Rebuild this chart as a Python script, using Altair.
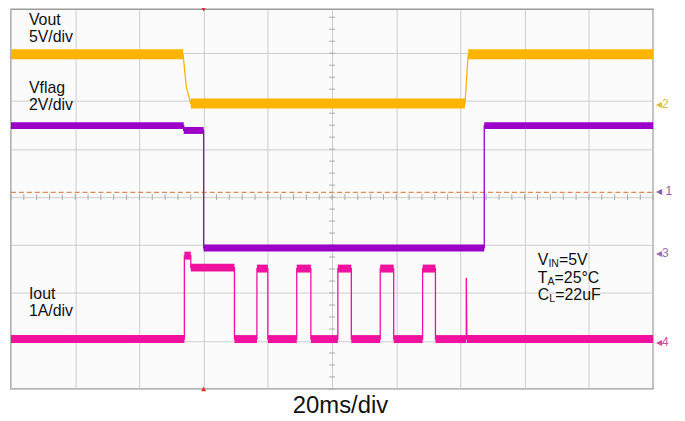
import altair as alt
import pandas as pd

# ---- Traces: time in divisions (0..10), level in divisions from the bottom graticule line ----
vout_t = [0.00, 2.68, 2.73, 2.77, 2.80, 7.07, 7.12, 10.00]
vout_v = [6.98, 6.98, 6.30, 6.10, 5.95, 5.95, 6.98, 6.98]

vflag_t = [0.00, 2.69, 2.69, 3.00, 3.00, 7.37, 7.37, 10.00]
vflag_v = [5.49, 5.49, 5.39, 5.39, 2.94, 2.94, 5.49, 5.49]

iout_t = [0.00, 2.70, 2.70, 2.80, 2.80, 3.48, 3.48, 3.83, 3.83, 4.00, 4.00,
          4.45, 4.45, 4.67, 4.67, 5.09, 5.09, 5.30, 5.30, 5.75, 5.75, 5.96,
          5.96, 6.41, 6.41, 6.61, 6.61, 7.09, 7.09, 7.10, 10.00]
iout_v = [1.04, 1.04, 2.78, 2.78, 2.53, 2.53, 1.04, 1.04, 2.51, 2.51, 1.04,
          1.04, 2.51, 2.51, 1.04, 1.04, 2.51, 2.51, 1.04, 1.04, 2.51, 2.51,
          1.04, 1.04, 2.51, 2.51, 1.04, 1.04, 2.32, 1.04, 1.04]

trigger_level = 4.10
trigger_time = 3.0

x_divs = list(range(11))
y_divs = list(range(8))
Y_TOP = 7.917

FONT = "Liberation Sans"
C_VOUT = "#FFB400"
C_VFLAG = "#9B00C9"
C_IOUT = "#F0129E"

xs = alt.Scale(domain=[0, 10], nice=False, zero=False)
ys = alt.Scale(domain=[0, Y_TOP], nice=False, zero=False)
xaxis = alt.Axis(values=x_divs, grid=True, labels=False, ticks=False, domain=False,
                 title=None, gridColor="#cdcdcd", gridWidth=1)
yaxis = alt.Axis(values=y_divs, grid=True, labels=False, ticks=False, domain=False,
                 title=None, gridColor="#cdcdcd", gridWidth=1)


def X(f):
    return alt.X(f, type="quantitative", scale=xs, axis=xaxis)


def Y(f):
    return alt.Y(f, type="quantitative", scale=ys, axis=yaxis)


def path_df(ts, vs):
    return pd.DataFrame({"t": ts, "v": vs, "i": list(range(len(ts)))})


def band_df(ts, vs):
    rows = []
    for k in range(len(ts) - 1):
        if vs[k] == vs[k + 1] and ts[k + 1] > ts[k]:
            rows.append({"t0": ts[k], "t1": ts[k + 1], "v": vs[k]})
    return pd.DataFrame(rows)


def trace(ts, vs, color, band_w):
    thin = alt.Chart(path_df(ts, vs)).mark_line(color=color, strokeWidth=1.3).encode(
        x=X("t"), y=Y("v"), order=alt.Order("i:Q"))
    thick = alt.Chart(band_df(ts, vs)).mark_rule(color=color, strokeWidth=band_w,
                                                 strokeCap="butt").encode(
        x=X("t0"), x2="t1", y=Y("v"))
    return thin + thick


# centre cross minor ticks
h_ticks = pd.DataFrame({"t": [k * 0.2 for k in range(51)]})
v_ticks = pd.DataFrame({"v": [k * 0.25 for k in range(32)]})

grid_base = alt.Chart(pd.DataFrame({"t": [0, 10], "v": [0, Y_TOP]})).mark_point(opacity=0).encode(
    x=X("t"), y=Y("v"))

htick_layer = alt.Chart(h_ticks).transform_calculate(v0="4-0.06", v1="4+0.06").mark_rule(
    color="#a8a8a8", strokeWidth=1).encode(x=X("t"), y=Y("v0:Q"), y2="v1:Q")
vtick_layer = alt.Chart(v_ticks).transform_calculate(t0="5-0.045", t1="5+0.045").mark_rule(
    color="#a8a8a8", strokeWidth=1).encode(y=Y("v"), x=X("t0:Q"), x2="t1:Q")

dash_layer = alt.Chart(pd.DataFrame({"t0": [0], "t1": [10], "v": [trigger_level]})).mark_rule(
    color="#dc8a55", strokeWidth=1.2, strokeDash=[5, 3]).encode(x=X("t0"), x2="t1", y=Y("v"))

markers = alt.Chart(pd.DataFrame({"t": [trigger_time, trigger_time], "v": [Y_TOP, 0],
                                  "s": ["triangle-down", "triangle-up"]})).mark_point(
    filled=True, color="#e0302a", size=28, opacity=1).encode(
    x=X("t"), y=Y("v"), shape=alt.Shape("s:N", scale=None, legend=None))


def txt(s, x, y, size, color="#111111", align="left"):
    return alt.Chart(pd.DataFrame({"s": [s]})).mark_text(
        font=FONT, fontSize=size, color=color, align=align, baseline="alphabetic").encode(
        x=alt.value(x), y=alt.value(y), text="s:N")


# page coords -> plot coords (plot origin at page (11, 8))
def P(px, py):
    return px - 11, py - 8


texts = []
for s, (px, py) in [("Vout", (29, 24)), ("5V/div", (29, 41)), ("Vflag", (29, 92)),
                    ("2V/div", (29, 109)), ("Iout", (29, 300)), ("1A/div", (29, 317))]:
    x, y = P(px, py)
    texts.append(txt(s, x, y, 16))

# condition annotation with subscripts
for main, sub, rest, py, w_main, w_sub in [("V", "IN", "=5V", 265, 10.7, 10.5),
                                            ("T", "A", "=25°C", 283, 9.8, 7.0),
                                            ("C", "L", "=22uF", 301, 11.6, 5.9)]:
    x0, y0 = P(541, py)
    texts.append(txt(main, x0, y0, 16))
    texts.append(txt(sub, x0 + w_main, y0 + 2, 10.5))
    texts.append(txt(rest, x0 + w_main + w_sub, y0, 16))

x, y = P(342.5, 414.5)
texts.append(txt("20ms/div", x, y, 24, align="center"))

# channel markers on the right
for s, py, col in [("◂2", 107, "#d6c23a"), ("◂ 1", 195, "#8060a8"),
                   ("◂3", 257, "#9a6cc0"), ("◂4", 347, "#c8509e")]:
    x, y = P(660, py)
    texts.append(txt(s, x, y, 12, color=col))

chart = alt.layer(
    grid_base, htick_layer, vtick_layer, dash_layer,
    trace(vout_t, vout_v, C_VOUT, 10),
    trace(vflag_t, vflag_v, C_VFLAG, 7),
    trace(iout_t, iout_v, C_IOUT, 8),
    markers,
    *texts,
).properties(
    width=646, height=382,
    autosize=alt.AutoSizeParams(type="none"),
    padding={"left": 3, "top": 0, "right": 24, "bottom": 32},
    background="white",
).configure_view(
    fill="#fbfbfb", stroke="#9a9a9a", strokeWidth=1.5
)

chart.save("out.html", embed_options={"renderer": "svg", "actions": False})
